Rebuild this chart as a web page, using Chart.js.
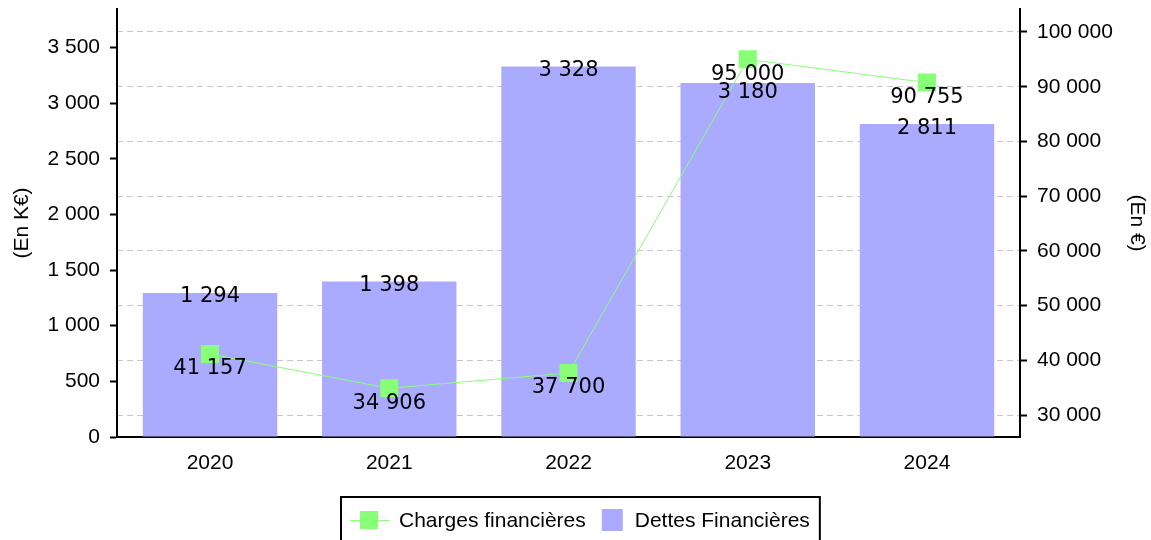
<!DOCTYPE html>
<html>
<head>
<meta charset="utf-8">
<script src="https://cdn.jsdelivr.net/npm/chart.js@4.4.0/dist/chart.umd.min.js"></script>
<style>
  html, body { margin: 0; padding: 0; background: #fff; }
  #wrap { width: 1151px; height: 540px; }
</style>
</head>
<body>
<div id="wrap"><canvas id="financial-chart" width="1151" height="540"></canvas></div>
<script>
var years = ['2020', '2021', '2022', '2023', '2024'];
var dettesFinancieres = [1294, 1398, 3328, 3180, 2811];   // En K€
var chargesFinancieres = [41157, 34906, 37700, 95000, 90755]; // En €
var leftTicks = [0, 500, 1000, 1500, 2000, 2500, 3000, 3500];
var rightTicks = [30000, 40000, 50000, 60000, 70000, 80000, 90000, 100000];
var seriesLabels = ['Charges financières', 'Dettes Financières'];
var axisTitles = ['(En K€)', '(En €)'];

var GREEN = '#88ff77';
var BLUE = '#aaaaff';
var SANS = '"Liberation Sans", Arial, sans-serif';
var LABEL_FONT = '21px "DejaVu Sans", sans-serif';
var PLOT_TOP = 9;

function spaced(v) {
  return String(Math.round(v)).replace(/\B(?=(\d{3})+(?!\d))/g, ' ');
}

// pin the plot frame and inset the category axis a little
var frameFix = {
  id: 'frameFix',
  afterLayout: function(chart) {
    var area = chart.chartArea;
    area.top = PLOT_TOP;
    area.height = area.bottom - area.top;
    ['y', 'y1'].forEach(function(id) {
      var s = chart.scales[id];
      s.top = PLOT_TOP;
      s.height = s.bottom - s.top;
      s.configure();
    });
    var xs = chart.scales.x;
    xs._startPixel = xs.left + 3.4;
    xs._endPixel = xs.right - 3.4;
    xs._length = xs._endPixel - xs._startPixel;
  }
};

// values written on bars and points
var valueLabels = {
  id: 'valueLabels',
  afterDatasetsDraw: function(chart) {
    var ctx = chart.ctx;
    var lineMeta = chart.getDatasetMeta(0);
    var barMeta = chart.getDatasetMeta(1);
    ctx.save();
    ctx.font = LABEL_FONT;
    ctx.fillStyle = '#000';
    ctx.textAlign = 'center';
    ctx.textBaseline = 'middle';
    lineMeta.data.forEach(function(pt, i) {
      var ly = pt.y + 15;
      ctx.fillText(spaced(chargesFinancieres[i]), pt.x, ly);
      var bar = barMeta.data[i];
      var by = bar.y + 4;
      if (Math.abs(by - ly) < 18) by = ly + 18;
      ctx.fillText(spaced(dettesFinancieres[i]), bar.x, by);
    });
    ctx.restore();
  }
};

// boxed legend under the chart
var boxLegend = {
  id: 'boxLegend',
  afterDraw: function(chart) {
    var ctx = chart.ctx;
    ctx.save();
    ctx.font = '21px ' + SANS;
    var w1 = ctx.measureText(seriesLabels[0]).width;
    var w2 = ctx.measureText(seriesLabels[1]).width;
    var total = 9 + 39 + 10 + w1 + 16 + 21 + 12 + w2 + 10;
    var left = Math.round(580.5 - total / 2);
    var top = 497, cy = 520;
    ctx.strokeStyle = '#000';
    ctx.lineWidth = 2;
    ctx.strokeRect(left, top, total, 50);

    var x = left + 9;
    ctx.strokeStyle = GREEN;
    ctx.lineWidth = 1;
    ctx.beginPath();
    ctx.moveTo(x, cy + 0.5);
    ctx.lineTo(x + 39, cy + 0.5);
    ctx.stroke();
    ctx.fillStyle = GREEN;
    ctx.fillRect(x + 10, cy - 9, 18, 18);
    x += 39 + 10;
    ctx.fillStyle = '#000';
    ctx.textBaseline = 'middle';
    ctx.fillText(seriesLabels[0], x, cy + 1);
    x += w1 + 16;
    ctx.fillStyle = BLUE;
    ctx.fillRect(x, cy - 11, 21, 22);
    x += 21 + 12;
    ctx.fillStyle = '#000';
    ctx.fillText(seriesLabels[1], x, cy + 1);
    ctx.restore();
  }
};

var container = document.getElementById('financial-chart').getContext('2d');
var myChart = new Chart(container, {
  data: {
    labels: years,
    datasets: [{
      type: 'line',
      label: seriesLabels[0],
      data: chargesFinancieres,
      yAxisID: 'y1',
      borderColor: GREEN,
      backgroundColor: GREEN,
      borderWidth: 1,
      pointStyle: 'rect',
      pointRadius: 12.73,
      pointBorderWidth: 0,
      pointHoverRadius: 12.73,
      tension: 0
    }, {
      type: 'bar',
      label: seriesLabels[1],
      data: dettesFinancieres,
      yAxisID: 'y',
      backgroundColor: BLUE,
      borderWidth: 0,
      barPercentage: 0.75,
      categoryPercentage: 1
    }]
  },
  options: {
    responsive: false,
    animation: false,
    layout: { padding: { top: 6, left: 0, right: 0, bottom: 0 } },
    plugins: {
      legend: { display: false },
      tooltip: { enabled: false }
    },
    scales: {
      x: {
        grid: { display: false },
        border: { display: true, color: '#000', width: 2 },
        ticks: { color: '#000', font: { family: SANS, size: 21 }, padding: 6 },
        afterFit: function(scale) {
          scale.height = 103;
          scale.paddingLeft = 0;
          scale.paddingRight = 0;
        }
      },
      y: {
        position: 'left',
        min: 0,
        max: 3845,
        grid: { drawOnChartArea: false, color: '#000', tickLength: 7, tickWidth: 2 },
        border: { display: true, color: '#000', width: 2 },
        ticks: {
          color: '#000',
          padding: 10,
          font: { family: SANS, size: 21 },
          callback: function(v) { return spaced(v); }
        },
        afterBuildTicks: function(scale) {
          scale.ticks = leftTicks.map(function(v) { return { value: v }; });
        },
        title: {
          display: true,
          text: axisTitles[0],
          color: '#000',
          font: { family: SANS, size: 21 },
          padding: { top: 10, bottom: 0 }
        },
        afterFit: function(scale) {
          scale.width = 117;
          scale.paddingTop = 0;
          scale.paddingBottom = 0;
        }
      },
      y1: {
        position: 'right',
        min: 26000,
        max: 104200,
        grid: {
          drawOnChartArea: true,
          color: '#c8c8c8',
          lineWidth: 1,
          tickColor: '#000',
          tickWidth: 2,
          tickLength: 7,
          tickBorderDash: []
        },
        border: { display: true, color: '#000', width: 2, dash: [6, 4] },
        ticks: {
          color: '#000',
          padding: 10,
          font: { family: SANS, size: 21 },
          callback: function(v) { return spaced(v); }
        },
        afterBuildTicks: function(scale) {
          scale.ticks = rightTicks.map(function(v) { return { value: v }; });
        },
        title: {
          display: true,
          text: axisTitles[1],
          color: '#000',
          font: { family: SANS, size: 21 },
          padding: { top: 2, bottom: 0 }
        },
        afterFit: function(scale) {
          scale.width = 131;
          scale.paddingTop = 0;
          scale.paddingBottom = 0;
        }
      }
    }
  },
  plugins: [frameFix, valueLabels, boxLegend]
});
</script>
</body>
</html>
